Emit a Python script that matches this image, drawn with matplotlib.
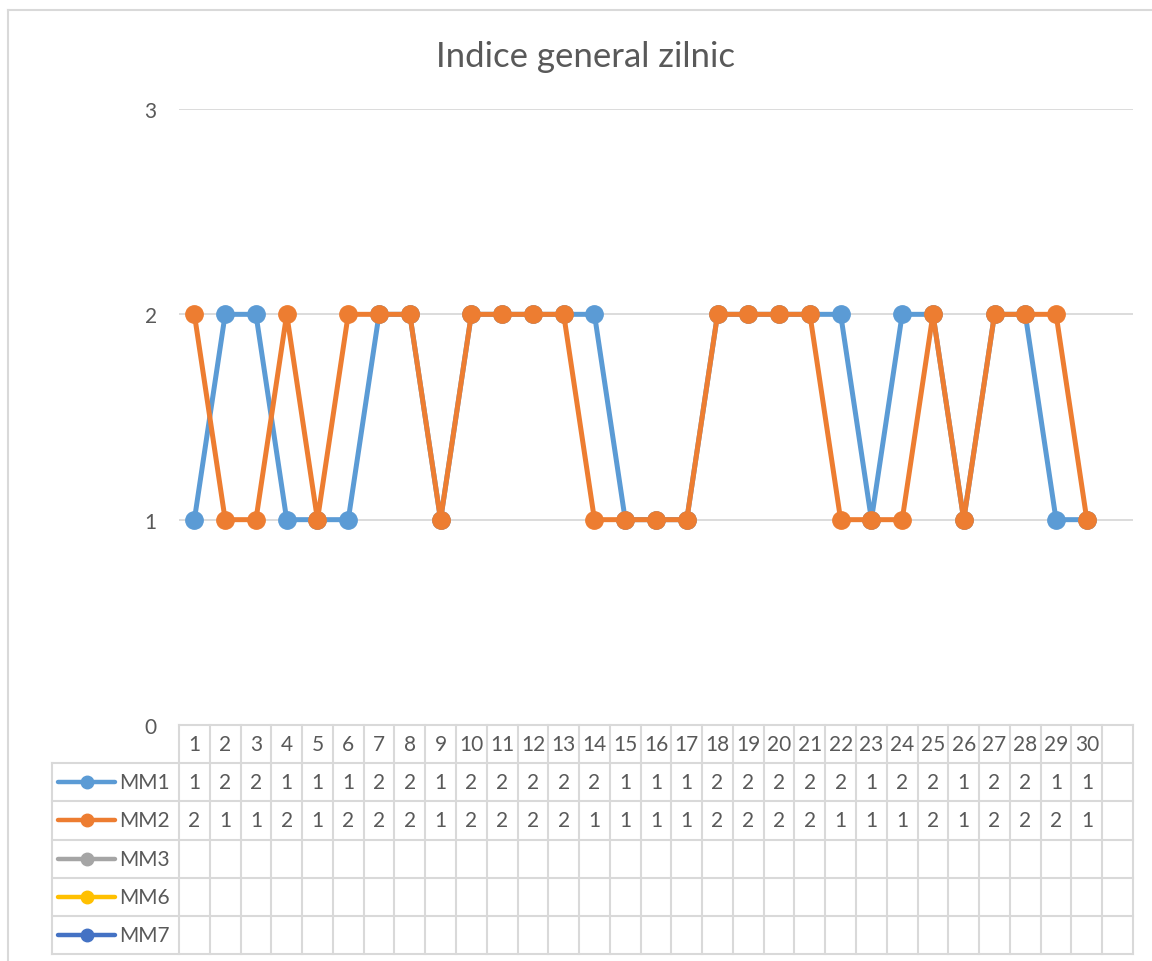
import matplotlib
matplotlib.use("Agg")
import matplotlib.pyplot as plt
from matplotlib.lines import Line2D

plt.rcParams["font.family"] = ["Lato", "DejaVu Sans"]

W, H = 1152, 962
TEXT = "#595959"
GRID = "#d9d9d9"
FS = 15

days = list(range(1, 31))
n_cols = 31  # Excel leaves one empty category at the end
series_names = ["MM1", "MM2", "MM3", "MM6", "MM7"]
series_colors = ["#5B9BD5", "#ED7D31", "#A5A5A5", "#FFC000", "#4472C4"]
mm1 = [1, 2, 2, 1, 1, 1, 2, 2, 1, 2, 2, 2, 2, 2, 1, 1, 1, 2, 2, 2, 2, 2, 1, 2, 2, 1, 2, 2, 1, 1]
mm2 = [2, 1, 1, 2, 1, 2, 2, 2, 1, 2, 2, 2, 2, 1, 1, 1, 1, 2, 2, 2, 2, 1, 1, 1, 2, 1, 2, 2, 2, 1]
series_values = [mm1, mm2, [], [], []]
yticks = [0, 1, 2, 3]

fig = plt.figure(figsize=(W / 100, H / 100), dpi=100)

# outer chart border (only left and top visible in the crop)
fig.add_artist(Line2D([8 / W, 8 / W], [0, 1 - 11 / H], transform=fig.transFigure, color=GRID, lw=1.5))
fig.add_artist(Line2D([8 / W, 1], [1 - 11 / H, 1 - 11 / H], transform=fig.transFigure, color=GRID, lw=1.5))

left, right, top, bottom = 179, 1133, 110, 726
ax = fig.add_axes([left / W, 1 - bottom / H, (right - left) / W, (bottom - top) / H])
ax.set_xlim(0.5, n_cols + 0.5)
ax.set_ylim(0, 3)
for y in yticks[1:]:
    ax.axhline(y, color=GRID, lw=1.3, zorder=0)
for s in ax.spines.values():
    s.set_visible(False)
ax.set_xticks([])
ax.set_yticks(yticks)
ax.tick_params(axis="y", length=0, pad=16, labelsize=FS, labelcolor=TEXT)

for name, color, vals in zip(series_names, series_colors, series_values):
    if vals:
        ax.plot(days, vals, color=color, lw=3.6, marker="o", ms=12.5,
                markeredgecolor=color, markerfacecolor=color, clip_on=False, solid_capstyle="round")

fig.text(585 / W, 1 - 57 / H, "Indice general zilnic", ha="center", va="center", fontsize=25, color=TEXT)

# data table under the chart
tleft, tbottom = 52, 955
ppu = (right - left) / n_cols
x0 = 0.5 - (left - tleft) / ppu
tab = fig.add_axes([tleft / W, 1 - tbottom / H, (right - tleft) / W, (tbottom - bottom) / H])
tab.set_xlim(x0, n_cols + 0.5)
n_rows = len(series_names) + 1
tab.set_ylim(n_rows, 0)
tab.axis("off")

lkw = dict(color=GRID, lw=1.5, clip_on=False)
# horizontal lines
tab.plot([0.5, n_cols + 0.5], [0, 0], **lkw)
for r in range(1, n_rows + 1):
    tab.plot([x0, n_cols + 0.5], [r, r], **lkw)
# vertical lines
for k in range(n_cols + 1):
    tab.plot([0.5 + k, 0.5 + k], [0, n_rows], **lkw)
tab.plot([x0, x0], [1, n_rows], **lkw)

for d in days:
    tab.text(d, 0.5, str(d), ha="center", va="center", fontsize=FS, color=TEXT)

for i, (name, color, vals) in enumerate(zip(series_names, series_colors, series_values)):
    yc = i + 1.5
    lx0 = x0 + 6 / ppu
    lx1 = x0 + 63 / ppu
    tab.plot([lx0, lx1], [yc, yc], color=color, lw=3.2, solid_capstyle="round", clip_on=False)
    tab.plot([(lx0 + lx1) / 2], [yc], marker="o", ms=9, color=color, clip_on=False)
    tab.text(x0 + 67 / ppu, yc, name, ha="left", va="center", fontsize=FS, color=TEXT)
    for d, v in zip(days, vals):
        tab.text(d, yc, str(v), ha="center", va="center", fontsize=FS, color=TEXT)

fig.savefig("out.png", dpi=100)
